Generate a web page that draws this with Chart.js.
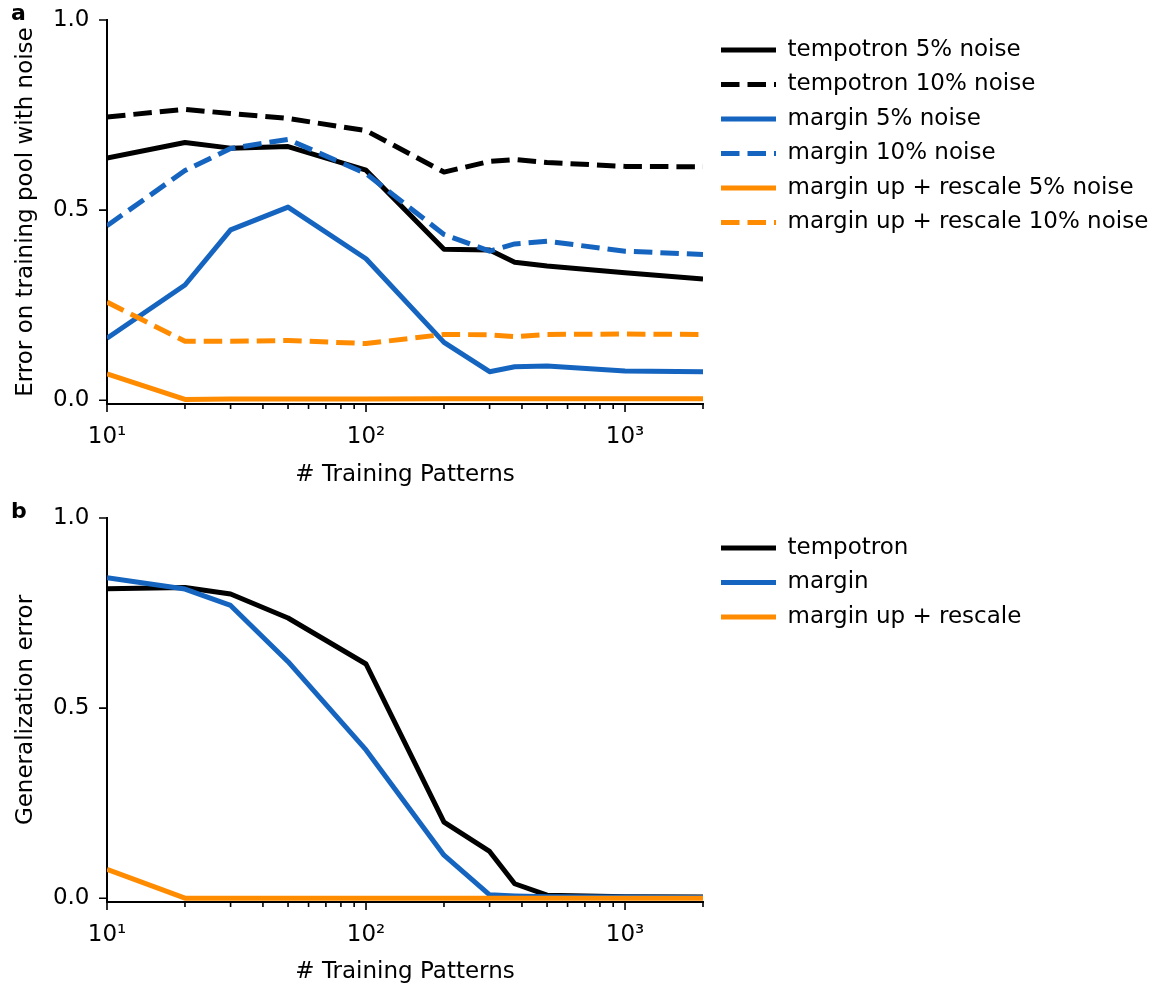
<!DOCTYPE html>
<html><head><meta charset="utf-8">
<script src="https://cdn.jsdelivr.net/npm/chart.js@4.4.1/dist/chart.umd.min.js"></script>
<style>
html,body{margin:0;padding:0;background:#fff;overflow:hidden;}
.wrap{position:absolute;left:0;width:1163px;}
</style></head><body>
<div class="wrap" style="top:0;height:498px"><canvas id="ca"></canvas></div>
<div class="wrap" style="top:498px;height:489px"><canvas id="cb"></canvas></div>
<script>
// ---- data ----
const trainingPatterns = [10, 20, 30, 50, 100, 200, 300, 375, 500, 1000, 2000];

// panel a: error on training pool with noise
const tempotronNoise5  = [0.637, 0.678, 0.663, 0.667, 0.605, 0.397, 0.395, 0.363, 0.353, 0.335, 0.319];
const tempotronNoise10 = [0.745, 0.765, 0.754, 0.741, 0.709, 0.600, 0.628, 0.633, 0.625, 0.615, 0.614];
const marginNoise5     = [0.163, 0.303, 0.448, 0.508, 0.372, 0.152, 0.075, 0.088, 0.090, 0.077, 0.075];
const marginNoise10    = [0.459, 0.604, 0.662, 0.686, 0.596, 0.436, 0.392, 0.411, 0.418, 0.392, 0.383];
const marginUpNoise5   = [0.069, 0.002, 0.003, 0.003, 0.003, 0.004, 0.004, 0.004, 0.004, 0.004, 0.004];
const marginUpNoise10  = [0.258, 0.155, 0.155, 0.157, 0.149, 0.173, 0.172, 0.167, 0.173, 0.174, 0.173];

// panel b: generalization error
const genTempotron = [0.814, 0.817, 0.800, 0.737, 0.616, 0.200, 0.123, 0.038, 0.008, 0.004, 0.003];
const genMargin    = [0.843, 0.813, 0.770, 0.622, 0.390, 0.113, 0.009, 0.006, 0.004, 0.003, 0.002];
const genMarginUp  = [0.076, 0.000, 0.000, 0.000, 0.000, 0.000, 0.000, 0.000, 0.000, 0.000, 0.000];

const legendLabelsA = ['tempotron 5% noise', 'tempotron 10% noise', 'margin 5% noise',
                       'margin 10% noise', 'margin up + rescale 5% noise', 'margin up + rescale 10% noise'];
const legendLabelsB = ['tempotron', 'margin', 'margin up + rescale'];

const xTickValues = [10, 20, 30, 40, 50, 60, 70, 80, 90, 100, 200, 300, 400, 500, 600, 700, 800, 900, 1000, 2000];
const yTickValues = [0, 0.5, 1.0];
const xRange = [10, 2000];
const yRange = [-0.01, 1.0];
const xAxisTitle = '# Training Patterns';
const yTitleA = 'Error on training pool with noise';
const yTitleB = 'Generalization error';
const panelLabels = ['a', 'b'];

// ---- style ----
const BLACK = '#000000', BLUE = '#1565c0', ORANGE = '#ff8c00';
const FONT = 'DejaVu Sans';
const DASH = [18.5, 8];
const LW = 5;

const SUP = {'1': '\u00b9', '2': '\u00b2', '3': '\u00b3'};
function isPow10(v) { const l = Math.log10(v); return Math.abs(l - Math.round(l)) < 1e-9; }

const tickMarks = {
  id: 'tickMarks',
  afterDraw(chart) {
    const ctx = chart.ctx, xs = chart.scales.x, ys = chart.scales.y, ca = chart.chartArea;
    ctx.save();
    ctx.strokeStyle = '#000';
    ctx.lineWidth = 1.6;
    ctx.beginPath();
    xs.ticks.forEach(t => {
      const px = xs.getPixelForValue(t.value);
      const len = isPow10(t.value) ? 8 : 5;
      ctx.moveTo(px, ca.bottom);
      ctx.lineTo(px, ca.bottom + len);
    });
    ys.ticks.forEach(t => {
      const py = ys.getPixelForValue(t.value);
      ctx.moveTo(ca.left, py);
      ctx.lineTo(ca.left - 8, py);
    });
    ctx.stroke();
    ctx.restore();
  }
};

const panelLabel = {
  id: 'panelLabel',
  afterDraw(chart, args, opts) {
    const ctx = chart.ctx;
    ctx.save();
    ctx.font = 'bold 22px "' + FONT + '"';
    ctx.fillStyle = '#000';
    ctx.textBaseline = 'alphabetic';
    ctx.textAlign = 'left';
    ctx.fillText(opts.text, 11, chart.chartArea.top);
    ctx.restore();
  }
};

const legendPlace = {
  id: 'legendPlace',
  beforeLayout(chart) {
    const lg = chart.legend;
    if (lg && !lg._fixedWidth) {
      const orig = lg.fit.bind(lg);
      lg.fit = function () { orig(); this.width = 460; };
      lg._fixedWidth = true;
    }
  },
  afterLayout(chart) {
    const lg = chart.legend, ca = chart.chartArea;
    const dx = ca.right + 6.5 - lg.left;
    const dy = ca.top + 7 - lg.top;
    lg.left += dx; lg.right += dx;
    lg.top += dy; lg.bottom += dy;
  }
};

function legendItems(chart) {
  const items = Chart.defaults.plugins.legend.labels.generateLabels(chart);
  items.forEach(it => {
    const ds = chart.data.datasets[it.datasetIndex];
    it.lineDash = ds.borderDash;
    it.lineWidth = ds.borderWidth;
    it.strokeStyle = ds.borderColor;
    it.fillStyle = ds.borderColor;
    it.lineCap = 'butt';
  });
  return items;
}

function series(values, label, color, dashed, order) {
  return {
    label,
    data: trainingPatterns.map((x, i) => ({x, y: values[i]})),
    borderColor: color,
    backgroundColor: color,
    borderWidth: LW,
    borderDash: dashed ? DASH : [],
    borderCapStyle: 'butt',
    borderJoinStyle: 'round',
    pointRadius: 0,
    pointHoverRadius: 0,
    tension: 0,
    fill: false,
    order
  };
}

function makeChart(id, datasets, yTitle, panel, xScaleHeight, xTitlePad) {
  return new Chart(document.getElementById(id), {
    type: 'line',
    data: { datasets },
    plugins: [tickMarks, panelLabel, legendPlace],
    options: {
      responsive: true,
      maintainAspectRatio: false,
      animation: false,
      events: [],
      layout: { padding: { top: 20, left: 0, right: 0, bottom: 0 } },
      plugins: {
        tooltip: { enabled: false },
        panelLabel: { text: panel },
        legend: {
          display: true,
          position: 'right',
          align: 'start',
          maxWidth: 460,
          labels: {
            usePointStyle: true,
            pointStyle: 'line',
            pointStyleWidth: 55,
            padding: 11.5,
            color: '#000',
            font: { family: FONT, size: 23 },
            generateLabels: legendItems,
            sort: (a, b) => a.datasetIndex - b.datasetIndex
          }
        }
      },
      scales: {
        x: {
          type: 'logarithmic',
          min: xRange[0],
          max: xRange[1],
          grid: { display: false, drawTicks: false },
          border: { display: true, color: '#000', width: 2 },
          afterBuildTicks(scale) { scale.ticks = xTickValues.map(v => ({value: v, major: isPow10(v)})); },
          afterFit(scale) { scale.height = xScaleHeight; },
          ticks: {
            autoSkip: false,
            maxRotation: 0,
            minRotation: 0,
            padding: 19,
            color: '#000',
            font: { family: FONT, size: 23 },
            callback: (v) => isPow10(v) ? '10' + SUP[String(Math.round(Math.log10(v)))] : ''
          },
          title: {
            display: true,
            text: xAxisTitle,
            color: '#000',
            font: { family: FONT, size: 23 },
            padding: { top: 0, bottom: xTitlePad }
          }
        },
        y: {
          type: 'linear',
          min: yRange[0],
          max: yRange[1],
          grid: { display: true, drawOnChartArea: false, drawTicks: true, tickLength: 13.5, tickColor: 'rgba(0,0,0,0)' },
          border: { display: true, color: '#000', width: 2 },
          afterBuildTicks(scale) { scale.ticks = yTickValues.map(v => ({value: v})); },
          afterFit(scale) { scale.width = 107; },
          ticks: {
            padding: 4,
            color: '#000',
            font: { family: FONT, size: 23 },
            callback: (v) => Number(v).toFixed(1)
          },
          title: {
            display: true,
            text: yTitle,
            color: '#000',
            font: { family: FONT, size: 23 },
            padding: { top: 12, bottom: 0 }
          }
        }
      }
    }
  });
}

makeChart('ca', [
  series(tempotronNoise5,  legendLabelsA[0], BLACK,  false, 6),
  series(tempotronNoise10, legendLabelsA[1], BLACK,  true,  5),
  series(marginNoise5,     legendLabelsA[2], BLUE,   false, 4),
  series(marginNoise10,    legendLabelsA[3], BLUE,   true,  3),
  series(marginUpNoise5,   legendLabelsA[4], ORANGE, false, 2),
  series(marginUpNoise10,  legendLabelsA[5], ORANGE, true,  1)
], yTitleA, panelLabels[0], 94, 8.7);

makeChart('cb', [
  series(genTempotron, legendLabelsB[0], BLACK,  false, 3),
  series(genMargin,    legendLabelsB[1], BLUE,   false, 2),
  series(genMarginUp,  legendLabelsB[2], ORANGE, false, 1)
], yTitleB, panelLabels[1], 85, 1.5);
</script>
</body></html>
